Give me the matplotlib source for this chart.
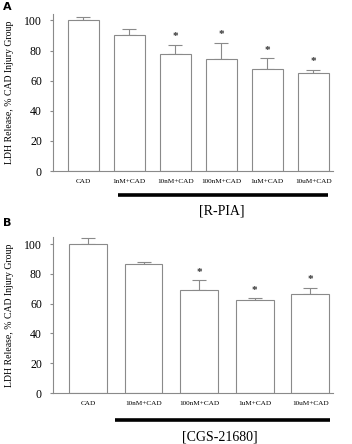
import matplotlib
matplotlib.use("Agg")
import matplotlib.pyplot as plt
import matplotlib.transforms as mt

plt.rcParams['font.family'] = ['Liberation Serif', 'DejaVu Serif']

cats_a = ["CAD", "1nM+CAD", "10nM+CAD", "100nM+CAD", "1uM+CAD", "10uM+CAD"]
vals_a = [100, 90.3, 77.7, 74.2, 68.0, 65.0]
errs_a = [2.0, 3.7, 6.2, 11.0, 7.0, 2.3]
sig_a = [False, False, True, True, True, True]

cats_b = ["CAD", "10nM+CAD", "100nM+CAD", "1uM+CAD", "10uM+CAD"]
vals_b = [100, 86.5, 69.0, 62.5, 66.4]
errs_b = [4.0, 1.4, 6.8, 1.2, 4.2]
sig_b = [False, False, True, True, True]

yticks = [0, 20, 40, 60, 80, 100]

W, H = 352, 444
fig = plt.figure(figsize=(W / 100, H / 100), dpi=100)
gray = '#8a8a8a'
PX = 72 / 100  # points per pixel


def panel(rect, cats, vals, errs, sig, xlim, ylim, width, bracket, label, label_x, label_dy, line_dy, letter, letter_xy):
    ax = fig.add_axes(rect)
    x = list(range(len(cats)))
    ax.bar(x, vals, width=width, color='white', edgecolor=gray, linewidth=0.8, zorder=2)
    ax.errorbar(x, vals, yerr=[[0] * len(errs), errs], fmt='none', ecolor=gray,
                elinewidth=0.8, capsize=5, capthick=0.8, zorder=1)
    for xi, v, e, s in zip(x, vals, errs, sig):
        if s:
            ax.annotate('*', (xi, v + e), xytext=(0, 8 * PX), textcoords='offset points',
                        ha='center', va='center', fontsize=8, color='#333333',
                        fontweight='bold')
    ax.set_xlim(*xlim)
    ax.set_ylim(*ylim)
    ax.set_yticks(yticks)
    ax.set_xticks(x)
    ax.set_xticklabels(cats, fontsize=5.2)
    ax.tick_params(axis='x', length=0, pad=6)
    ax.tick_params(axis='y', length=2, width=0.8, color=gray, labelsize=8.5, pad=6)
    for side in ['top', 'right']:
        ax.spines[side].set_visible(False)
    for side in ['left', 'bottom']:
        ax.spines[side].set_color(gray)
        ax.spines[side].set_linewidth(0.8)
    ax.set_ylabel('LDH Release, % CAD Injury Group', fontsize=7, labelpad=7)
    trans = ax.get_xaxis_transform()
    off = mt.offset_copy(trans, fig=fig, x=0, y=-line_dy * PX, units='points')
    ax.plot(bracket, [0, 0], color='black', linewidth=2.6, transform=off, clip_on=False,
            solid_capstyle='butt')
    off2 = mt.offset_copy(trans, fig=fig, x=0, y=-label_dy * PX, units='points')
    ax.text(label_x, 0, label, transform=off2, ha='center', va='center', fontsize=10)
    fig.text(letter_xy[0] / W, 1 - letter_xy[1] / H, letter, fontsize=8, fontweight='bold',
             family='DejaVu Sans', ha='left', va='center')
    return ax


panel([53 / W, 1 - 171 / H, 280 / W, (171 - 14.4) / H], cats_a, vals_a, errs_a, sig_a,
      (-0.66, 5.43), (0, 104), 0.67, [0.75, 5.32], '[R-PIA]', 3.0, 40, 24, 'A', (3, 7))

panel([53 / W, 1 - 393 / H, 280 / W, (393 - 236.7) / H], cats_b, vals_b, errs_b, sig_b,
      (-0.63, 4.41), (0, 105), 0.68, [0.49, 4.36], '[CGS-21680]', 2.38, 44, 27, 'B', (3, 223))

fig.savefig('out.png', dpi=100)
